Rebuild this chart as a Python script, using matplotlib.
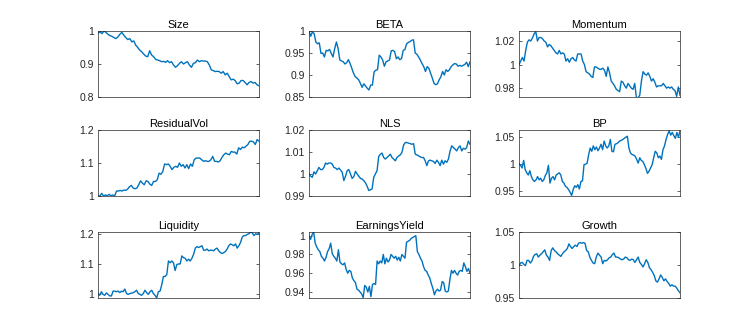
import numpy as np
import matplotlib
matplotlib.use("Agg")
import matplotlib.pyplot as plt

plt.rcParams['font.family'] = ['Liberation Sans', 'DejaVu Sans']

# factor net value curves
size = [0.994, 0.997, 0.992, 1.000, 0.996, 0.990, 0.986, 0.984, 0.980, 0.977, 0.982, 0.990, 0.996,
        0.987, 0.980, 0.974, 0.977, 0.967, 0.970, 0.957, 0.950, 0.942, 0.937, 0.930, 0.924, 0.922,
        0.940, 0.927, 0.922, 0.914, 0.912, 0.910, 0.907, 0.908, 0.905, 0.910, 0.904, 0.907, 0.897,
        0.890, 0.895, 0.902, 0.907, 0.900, 0.904, 0.907, 0.897, 0.890, 0.902, 0.904, 0.912, 0.907,
        0.910, 0.909, 0.909, 0.907, 0.897, 0.882, 0.880, 0.877, 0.878, 0.877, 0.872, 0.877, 0.867,
        0.872, 0.862, 0.852, 0.854, 0.850, 0.840, 0.842, 0.850, 0.850, 0.844, 0.837, 0.844, 0.847,
        0.842, 0.844, 0.837, 0.834]

beta = [1.000, 0.988, 0.998, 0.994, 0.975, 0.971, 0.973, 0.949, 0.950, 0.941, 0.956, 0.955, 0.958,
        0.949, 0.941, 0.960, 0.975, 0.960, 0.934, 0.932, 0.930, 0.925, 0.928, 0.935, 0.926, 0.915,
        0.904, 0.896, 0.893, 0.889, 0.881, 0.872, 0.880, 0.875, 0.870, 0.866, 0.877, 0.877, 0.907,
        0.911, 0.912, 0.945, 0.941, 0.934, 0.920, 0.930, 0.932, 0.934, 0.955, 0.956, 0.953, 0.937,
        0.941, 0.935, 0.937, 0.956, 0.958, 0.971, 0.974, 0.976, 0.979, 0.980, 0.950, 0.947, 0.941,
        0.934, 0.926, 0.919, 0.908, 0.919, 0.915, 0.904, 0.893, 0.881, 0.878, 0.880, 0.889, 0.896,
        0.908, 0.900, 0.912, 0.908, 0.912, 0.919, 0.923, 0.926, 0.925, 0.920, 0.922, 0.920, 0.922,
        0.924, 0.929, 0.919, 0.930]

momentum = [1.000, 1.003, 1.006, 1.003, 1.012, 1.019, 1.021, 1.020, 1.0225, 1.026, 1.028, 1.020,
            1.023, 1.023, 1.022, 1.020, 1.019, 1.015, 1.017, 1.016, 1.014, 1.012, 1.010, 1.009,
            1.012, 1.009, 1.010, 1.009, 1.003, 1.005, 1.002, 1.005, 1.006, 1.004, 1.003, 1.009,
            1.009, 1.009, 1.003, 1.000, 0.994, 0.993, 0.992, 0.990, 0.989, 0.998, 0.998, 0.997,
            0.996, 0.996, 0.997, 0.995, 0.990, 0.998, 0.993, 0.986, 0.984, 0.982, 0.979, 0.978,
            0.977, 0.986, 0.985, 0.982, 0.980, 0.984, 0.982, 0.980, 0.979, 0.984, 0.972, 0.972,
            0.974, 0.986, 0.994, 0.992, 0.991, 0.993, 0.990, 0.986, 0.988, 0.985, 0.981, 0.982,
            0.982, 0.982, 0.984, 0.982, 0.980, 0.981, 0.980, 0.981, 0.979, 0.978, 0.973, 0.981, 0.974]

residualvol = [1.000, 1.000, 1.008, 1.000, 1.003, 1.001, 1.005, 1.001, 1.003, 1.000, 1.015, 1.015,
               1.017, 1.015, 1.018, 1.017, 1.021, 1.028, 1.032, 1.024, 1.022, 1.024, 1.034, 1.046,
               1.039, 1.034, 1.046, 1.044, 1.036, 1.032, 1.044, 1.044, 1.049, 1.069, 1.066, 1.074,
               1.097, 1.095, 1.097, 1.090, 1.080, 1.087, 1.090, 1.087, 1.100, 1.090, 1.095, 1.085,
               1.095, 1.083, 1.097, 1.090, 1.110, 1.115, 1.115, 1.115, 1.110, 1.105, 1.107, 1.105,
               1.105, 1.110, 1.120, 1.105, 1.105, 1.103, 1.107, 1.117, 1.125, 1.130, 1.127, 1.125,
               1.135, 1.133, 1.133, 1.127, 1.146, 1.141, 1.148, 1.146, 1.151, 1.156, 1.166, 1.166,
               1.164, 1.156, 1.171, 1.166]

nls = [1.000, 0.999, 0.9985, 1.001, 1.000, 1.0015, 1.003, 1.002, 1.002, 1.003, 1.005, 1.0045, 1.005,
       1.005, 1.0045, 1.003, 1.0027, 1.002, 1.0027, 1.0018, 1.0008, 0.997, 0.999, 1.0015, 1.002,
       1.000, 0.998, 0.9988, 1.0012, 1.000, 0.999, 0.998, 0.9977, 0.997, 0.996, 0.9945, 0.9925,
       0.9928, 0.9932, 0.9985, 1.000, 1.0015, 1.008, 1.009, 1.0095, 1.0075, 1.0068, 1.0075, 1.0082,
       1.009, 1.0075, 1.0068, 1.006, 1.0075, 1.0082, 1.0087, 1.0098, 1.0132, 1.0143, 1.0143, 1.014,
       1.0138, 1.0135, 1.0138, 1.009, 1.0087, 1.0083, 1.0078, 1.0075, 1.0075, 1.006, 1.0038, 1.006,
       1.0063, 1.006, 1.0057, 1.0048, 1.0063, 1.0053, 1.0038, 1.0063, 1.0045, 1.006, 1.0053, 1.0068,
       1.0105, 1.0128, 1.012, 1.0113, 1.0105, 1.012, 1.0128, 1.0105, 1.0117, 1.0113, 1.012, 1.015,
       1.0135]

bp = [1.000, 0.997, 0.992, 1.006, 0.989, 0.983, 0.979, 0.987, 0.976, 0.970, 0.967, 0.970, 0.976,
      0.970, 0.973, 0.967, 0.970, 0.978, 0.983, 0.997, 0.964, 0.973, 0.976, 0.970, 0.979, 0.981,
      0.983, 0.979, 0.967, 0.964, 0.958, 0.956, 0.952, 0.947, 0.941, 0.952, 0.959, 0.956, 0.961,
      0.953, 0.967, 0.968, 0.998, 0.999, 1.001, 1.017, 1.029, 1.023, 1.033, 1.026, 1.031, 1.024,
      1.029, 1.036, 1.026, 1.042, 1.033, 1.029, 1.033, 1.045, 1.023, 1.022, 1.036, 1.037, 1.039,
      1.042, 1.043, 1.045, 1.047, 1.049, 1.051, 1.029, 1.020, 1.017, 1.016, 1.014, 1.008, 1.001,
      1.011, 1.006, 1.004, 0.998, 0.991, 0.982, 0.986, 0.992, 0.998, 1.011, 1.023, 1.020, 1.011,
      1.014, 1.008, 1.026, 1.033, 1.045, 1.054, 1.061, 1.053, 1.058, 1.052, 1.047, 1.058, 1.049, 1.061]

liquidity = [1.000, 0.994, 1.006, 0.997, 0.994, 1.002, 0.997, 0.992, 0.992, 1.008, 1.008, 1.006,
             1.008, 1.003, 1.008, 1.006, 1.015, 1.000, 0.997, 1.000, 1.001, 1.003, 1.006, 1.011,
             1.000, 0.997, 0.994, 1.000, 1.011, 1.003, 0.997, 1.006, 1.011, 1.000, 0.994, 0.985,
             1.006, 1.008, 1.029, 1.057, 1.057, 1.063, 1.109, 1.103, 1.109, 1.103, 1.077, 1.097,
             1.099, 1.099, 1.126, 1.120, 1.118, 1.109, 1.115, 1.109, 1.118, 1.131, 1.152, 1.157,
             1.154, 1.157, 1.160, 1.145, 1.145, 1.149, 1.143, 1.145, 1.145, 1.143, 1.149, 1.152,
             1.143, 1.137, 1.134, 1.137, 1.141, 1.149, 1.160, 1.166, 1.163, 1.160, 1.166, 1.152,
             1.160, 1.171, 1.189, 1.194, 1.194, 1.198, 1.200, 1.206, 1.203, 1.194, 1.200, 1.198, 1.203]

earningsyield = [0.999, 0.996, 1.001, 1.004, 0.992, 0.988, 0.985, 0.983, 0.978, 0.976, 0.973, 0.977,
                 0.983, 0.986, 0.992, 0.981, 0.978, 0.976, 0.973, 0.985, 0.972, 0.970, 0.969, 0.971,
                 0.964, 0.960, 0.963, 0.962, 0.955, 0.952, 0.950, 0.943, 0.942, 0.940, 0.938, 0.934,
                 0.947, 0.945, 0.940, 0.946, 0.935, 0.948, 0.949, 0.948, 0.973, 0.970, 0.973, 0.971,
                 0.980, 0.970, 0.976, 0.972, 0.974, 0.980, 0.978, 0.976, 0.978, 0.974, 0.977, 0.973,
                 0.980, 0.978, 0.976, 0.993, 0.994, 0.995, 0.997, 0.998, 0.999, 1.000, 0.983, 0.980,
                 0.976, 0.973, 0.967, 0.963, 0.962, 0.958, 0.955, 0.949, 0.944, 0.937, 0.941, 0.943,
                 0.941, 0.942, 0.951, 0.950, 0.941, 0.940, 0.941, 0.953, 0.963, 0.960, 0.963, 0.960,
                 0.958, 0.962, 0.963, 0.962, 0.971, 0.967, 0.962, 0.965, 0.960]

growth = [0.999, 1.003, 1.004, 1.001, 0.999, 1.007, 1.007, 1.003, 1.006, 1.013, 1.016, 1.017, 1.012,
          1.015, 1.017, 1.020, 1.023, 1.015, 1.012, 1.007, 1.022, 1.026, 1.022, 1.020, 1.017, 1.015,
          1.013, 1.017, 1.020, 1.022, 1.025, 1.032, 1.028, 1.025, 1.028, 1.030, 1.028, 1.033, 1.034,
          1.033, 1.034, 1.033, 1.022, 1.020, 1.012, 1.007, 1.003, 1.002, 1.012, 1.018, 1.015, 1.012,
          1.002, 1.007, 1.006, 1.008, 1.011, 1.012, 1.016, 1.018, 1.012, 1.012, 1.011, 1.009, 1.008,
          1.009, 1.012, 1.011, 1.008, 1.007, 1.009, 1.008, 1.004, 1.008, 1.012, 1.004, 1.001, 0.997,
          1.002, 1.008, 1.004, 0.996, 0.993, 0.989, 0.984, 0.976, 0.974, 0.979, 0.985, 0.981, 0.976,
          0.979, 0.975, 0.972, 0.968, 0.970, 0.968, 0.968, 0.965, 0.961, 0.958]

titles = ['Size', 'BETA', 'Momentum', 'ResidualVol', 'NLS', 'BP', 'Liquidity', 'EarningsYield', 'Growth']
series = [size, beta, momentum, residualvol, nls, bp, liquidity, earningsyield, growth]
ylims = [(0.8, 1.0), (0.85, 1.0), (0.9725, 1.0285),
         (1.0, 1.2), (0.99, 1.02), (0.94, 1.0625),
         (0.985, 1.206), (0.9336, 1.0039), (0.95, 1.05)]
yticks = [[0.8, 0.9, 1], [0.85, 0.9, 0.95, 1], [0.98, 1, 1.02],
          [1, 1.1, 1.2], [0.99, 1, 1.01, 1.02], [0.95, 1, 1.05],
          [1, 1.1, 1.2], [0.94, 0.96, 0.98, 1], [0.95, 1, 1.05]]
yticklabels = [['0.8', '0.9', '1'], ['0.85', '0.9', '0.95', '1'], ['0.98', '1', '1.02'],
               ['1', '1.1', '1.2'], ['0.99', '1', '1.01', '1.02'], ['0.95', '1', '1.05'],
               ['1', '1.1', '1.2'], ['0.94', '0.96', '0.98', '1'], ['0.95', '1', '1.05']]

W, H = 753, 335
fig = plt.figure(figsize=(W / 100, H / 100), dpi=100)

lefts = [98, 309, 519]
tops = [31, 130, 232]
aw, ah = 161, 66

for i in range(9):
    r, c = divmod(i, 3)
    ax = fig.add_axes([lefts[c] / W, (H - tops[r] - ah) / H, aw / W, ah / H])
    y = np.array(series[i])
    x = np.arange(len(y))
    ax.plot(x, y, color='#0072BD', lw=1.0)
    ax.set_xlim(0, len(y) - 1)
    ax.set_ylim(*ylims[i])
    ax.set_xticks([])
    ax.set_yticks(yticks[i])
    ax.set_yticklabels(yticklabels[i])
    ax.tick_params(axis='y', direction='in', length=2.5, width=0.5, right=True,
                   labelsize=7.5, colors='#262626', pad=3)
    for s in ax.spines.values():
        s.set_color('#262626')
        s.set_linewidth(0.5)
    ax.set_title(titles[i], fontsize=8, pad=2)

fig.savefig('out.png', dpi=100)
